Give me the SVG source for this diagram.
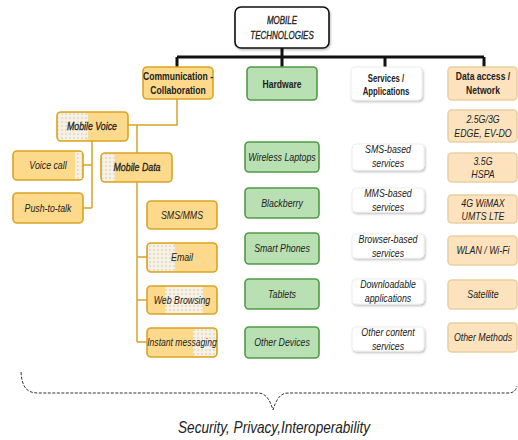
<svg xmlns="http://www.w3.org/2000/svg" width="518" height="440" viewBox="0 0 518 440">
<defs>
<pattern id="dots" width="4" height="4" patternUnits="userSpaceOnUse">
<rect width="4" height="4" fill="#f6f1e3"/>
<circle cx="2" cy="2" r="0.8" fill="#c9c6bd"/>
</pattern>
<filter id="sh" x="-10%" y="-10%" width="130%" height="140%">
<feDropShadow dx="1" dy="1.5" stdDeviation="1" flood-color="#000" flood-opacity="0.25"/>
</filter>
</defs>
<style>
text{font-family:"Liberation Sans",Arial,sans-serif;text-anchor:middle;fill:#222}
.h{font-size:11px;font-weight:bold}
.l{font-size:11px;font-style:italic}
.m{font-size:11px;font-style:italic;stroke:#222;stroke-width:.3}
.o{fill:#fdd98b;stroke:#d9a425;stroke-width:1.6}
.g{fill:#b8e0b2;stroke:#4f9a47;stroke-width:1.6}
.p{fill:#fde3bd;stroke:#ebcfa3;stroke-width:1.6}
.w{fill:#fff;stroke:#eeeeee;stroke-width:1}
.tx{fill:url(#dots)}
.k{fill:none;stroke:#111;stroke-width:3}
.c{fill:none;stroke:#d6a52a;stroke-width:1.5}
</style>

<g id="connectors">
<path class="k" d="M282 48V57M177 57H484M177 57V67M282 57V67M385 57V67M484 57V67"/>
<path class="c" d="M177 99V125H128M137 125V153M92 141V208M83 165H92M83 208H92M137 182V342M137 257H147M137 300H147M137 342H147"/>
</g>

<g id="root">
<rect x="235" y="7" width="94" height="41" rx="6" fill="#fff" stroke="#111" stroke-width="1.6" filter="url(#sh)"/>
<text class="m" transform="translate(282 24) scale(.8 1)" style="font-size:10px">MOBILE</text>
<text class="m" transform="translate(282 39) scale(.8 1)" style="font-size:10px">TECHNOLOGIES</text>
</g>

<g id="comm"><rect class="o" x="143" y="67" width="70" height="32" rx="4"/>
<text class="h" transform="translate(178 80) scale(.78 1)">Communication -</text><text class="h" transform="translate(178 94) scale(.78 1)">Collaboration</text></g>
<g id="hardware"><rect class="g" x="247" y="67" width="70" height="33" rx="4"/>
<text class="h" transform="translate(282 88) scale(.78 1)">Hardware</text></g>
<g id="services"><rect class="w" x="351" y="67" width="71" height="33" rx="4" filter="url(#sh)"/>
<text class="h" transform="translate(386 82) scale(.78 1)" style="font-size:10px">Services /</text><text class="h" transform="translate(386 95) scale(.78 1)" style="font-size:10px">Applications</text></g>
<g id="data"><rect class="p" x="448" y="67" width="69" height="33" rx="4"/>
<text class="h" transform="translate(483 80) scale(.78 1)">Data access /</text><text class="h" transform="translate(483 94) scale(.78 1)">Network</text></g>

<g id="mobilevoice"><rect class="o" x="57" y="112" width="71" height="29" rx="4"/>
<rect class="tx" x="58" y="113" width="30" height="27" rx="3"/>
<text class="m" transform="translate(92 130) scale(.8 1)">Mobile Voice</text></g>
<g id="voicecall"><rect class="o" x="13" y="151" width="70" height="29" rx="4"/>
<rect class="tx" x="75" y="152" width="7" height="27"/>
<text class="l" transform="translate(48 169) scale(.8 1)">Voice call</text></g>
<g id="ptt"><rect class="o" x="13" y="193" width="70" height="30" rx="4"/>
<text class="l" transform="translate(48 212) scale(.8 1)">Push-to-talk</text></g>
<g id="mobiledata"><rect class="o" x="101" y="153" width="71" height="29" rx="4"/>
<rect class="tx" x="102" y="154" width="13" height="27" rx="3"/>
<text class="m" transform="translate(137 171) scale(.8 1)">Mobile Data</text></g>
<g id="smsmms"><rect class="o" x="147" y="201" width="70" height="28" rx="4"/>
<text class="l" transform="translate(182 219) scale(.8 1)">SMS/MMS</text></g>
<g id="email"><rect class="o" x="147" y="243" width="70" height="29" rx="4"/>
<rect class="tx" x="148" y="244" width="27" height="27" rx="3"/>
<text class="l" transform="translate(182 261) scale(.8 1)">Email</text></g>
<g id="web"><rect class="o" x="147" y="286" width="70" height="28" rx="4"/>
<rect class="tx" x="165" y="287" width="38" height="26"/>
<text class="l" transform="translate(182 304) scale(.8 1)">Web Browsing</text></g>
<g id="im"><rect class="o" x="147" y="328" width="70" height="29" rx="4"/>
<rect class="tx" x="193" y="329" width="23" height="27" rx="3"/>
<text class="l" transform="translate(182 346) scale(.78 1)">Instant messaging</text></g>

<g id="laptops"><rect class="g" x="245" y="142" width="74" height="30" rx="4"/>
<text class="l" transform="translate(282 161) scale(.8 1)">Wireless Laptops</text></g>
<g id="blackberry"><rect class="g" x="245" y="188" width="74" height="30" rx="4"/>
<text class="l" transform="translate(282 207) scale(.8 1)">Blackberry</text></g>
<g id="smartphones"><rect class="g" x="245" y="233" width="74" height="31" rx="4"/>
<text class="l" transform="translate(282 252) scale(.8 1)">Smart Phones</text></g>
<g id="tablets"><rect class="g" x="245" y="279" width="74" height="30" rx="4"/>
<text class="l" transform="translate(282 298) scale(.8 1)">Tablets</text></g>
<g id="otherdevices"><rect class="g" x="245" y="327" width="74" height="31" rx="4"/>
<text class="l" transform="translate(282 346) scale(.8 1)">Other Devices</text></g>

<g id="sms"><rect class="w" x="352" y="144" width="72" height="26" rx="4" filter="url(#sh)"/>
<text class="l" transform="translate(388 153) scale(.8 1)">SMS-based</text><text class="l" transform="translate(388 167) scale(.8 1)">services</text></g>
<g id="mms"><rect class="w" x="352" y="188" width="72" height="24" rx="4" filter="url(#sh)"/>
<text class="l" transform="translate(388 197) scale(.8 1)">MMS-based</text><text class="l" transform="translate(388 211) scale(.8 1)">services</text></g>
<g id="browser"><rect class="w" x="352" y="234" width="72" height="24" rx="4" filter="url(#sh)"/>
<text class="l" transform="translate(388 243) scale(.8 1)">Browser-based</text><text class="l" transform="translate(388 257) scale(.8 1)">services</text></g>
<g id="download"><rect class="w" x="352" y="279" width="72" height="25" rx="4" filter="url(#sh)"/>
<text class="l" transform="translate(388 288) scale(.8 1)">Downloadable</text><text class="l" transform="translate(388 302) scale(.8 1)">applications</text></g>
<g id="othercontent"><rect class="w" x="352" y="327" width="72" height="24" rx="4" filter="url(#sh)"/>
<text class="l" transform="translate(388 336) scale(.8 1)">Other content</text><text class="l" transform="translate(388 350) scale(.8 1)">services</text></g>

<g id="g25"><rect class="p" x="448" y="110" width="69" height="32" rx="4"/>
<text class="l" transform="translate(483 123) scale(.8 1)">2.5G/3G</text><text class="l" transform="translate(483 137) scale(.8 1)">EDGE, EV-DO</text></g>
<g id="g35"><rect class="p" x="448" y="153" width="69" height="29" rx="4"/>
<text class="l" transform="translate(483 165) scale(.8 1)">3.5G</text><text class="l" transform="translate(483 178) scale(.8 1)">HSPA</text></g>
<g id="g4"><rect class="p" x="448" y="195" width="69" height="28" rx="4"/>
<text class="l" transform="translate(483 207) scale(.8 1)">4G WiMAX</text><text class="l" transform="translate(483 220) scale(.8 1)">UMTS LTE</text></g>
<g id="wlan"><rect class="p" x="448" y="236" width="69" height="29" rx="4"/>
<text class="l" transform="translate(483 254) scale(.8 1)">WLAN / Wi-Fi</text></g>
<g id="satellite"><rect class="p" x="448" y="280" width="69" height="29" rx="4"/>
<text class="l" transform="translate(483 298) scale(.8 1)">Satellite</text></g>
<g id="othermethods"><rect class="p" x="448" y="323" width="69" height="29" rx="4"/>
<text class="l" transform="translate(483 341) scale(.8 1)">Other Methods</text></g>

<g id="brace">
<path d="M21 372C22 385 25 393 38 393H258C266 393 270 400 273 410C276 400 280 393 288 393H508C514 393 516 390 517 386" fill="none" stroke="#333" stroke-width="1" stroke-dasharray="3,1.5"/>
<rect x="176" y="414" width="196" height="22" fill="#fff"/>
<text transform="translate(274 433) scale(.85 1)" style="font-size:16px;font-style:italic">Security, Privacy,Interoperability</text>
</g>
</svg>
